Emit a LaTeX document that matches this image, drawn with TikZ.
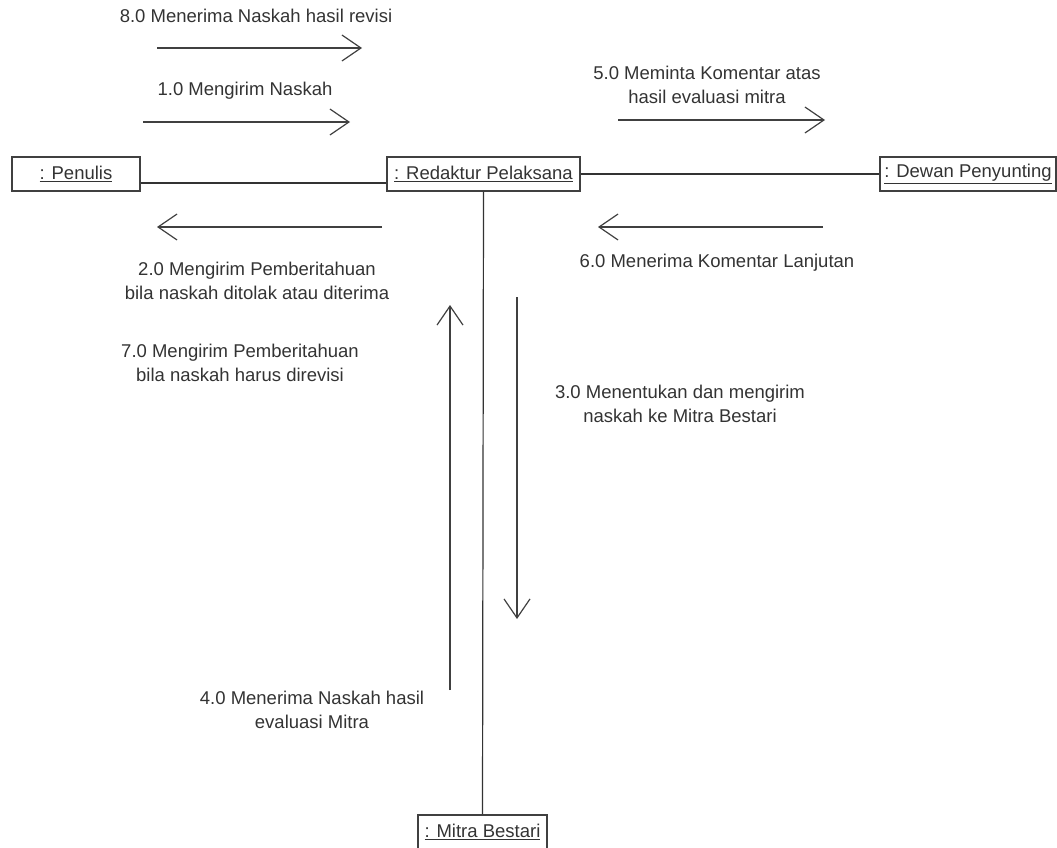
\documentclass[tikz,border=0pt]{standalone}
\usepackage{fontspec}
\setmainfont{Liberation Sans}
\usetikzlibrary{positioning,arrows.meta}

\begin{document}
\begin{tikzpicture}[x=1pt, y=-1pt, font=\fontsize{18.5}{24.5}\selectfont,
	obj/.style={draw=black!75, line width=1.3pt, inner sep=0pt, minimum height=34pt, text=black!80},
	link/.style={draw=black!80, line width=1.2pt},
	msg/.style={draw=black!75, line width=1.2pt, -{Straight Barb[length=19pt, width=26pt]}},
	lbl/.style={align=center, text=black!80, inner sep=0pt}]
\useasboundingbox (0,0) rectangle (1057,848);

% objects
\node[obj, minimum width=128pt]	(penulis)	at (76,174)		{\underline{: Penulis}};
\node[obj, minimum width=193pt]	(redaktur)	at (483.5,174)	{\underline{: Redaktur Pelaksana}};
\node[obj, minimum width=176pt]	(dewan)		at (968,174)	{\underline{: Dewan Penyunting}};
\node[obj, minimum width=129pt]	(mitra)		at (482.5,832)	{\underline{: Mitra Bestari}};

% links
\path[link]	([yshift=-9pt]penulis.east)	edge	([yshift=-9pt]redaktur.west)
			(redaktur.east)				edge	(dewan.west)
			(redaktur.south)			edge	(mitra.north);

% message ends
\coordinate (m8a) at (157,48);	\coordinate (m8b) at (362,48);
\coordinate (m1a) at (143,122);	\coordinate (m1b) at (350,122);
\coordinate (m5a) at (618,120);	\coordinate (m5b) at (825,120);
\coordinate (m2a) at (382,227);	\coordinate (m2b) at (157,227);
\coordinate (m6a) at (823,227);	\coordinate (m6b) at (598,227);
\coordinate (m4a) at (450,690);	\coordinate (m4b) at (450,305);
\coordinate (m3a) at (517,297);	\coordinate (m3b) at (517,619);

% messages
\draw[msg] (m8a) -- (m8b);
\draw[msg] (m1a) -- (m1b);
\draw[msg] (m5a) -- (m5b);
\draw[msg] (m2a) -- (m2b);
\draw[msg] (m6a) -- (m6b);
\draw[msg] (m4a) -- (m4b);
\draw[msg] (m3a) -- (m3b);

% labels
\node[lbl] (l8) at (256,16)		{8.0 Menerima Naskah hasil revisi};
\node[lbl] (l1) at (245,91)		{1.0 Mengirim Naskah};
\node[lbl] (l5) at (707,85)		{5.0 Meminta Komentar atas\\hasil evaluasi mitra};
\node[lbl] (l2) at (257,281)	{2.0 Mengirim Pemberitahuan\\bila naskah ditolak atau diterima};
\node[lbl] (l6) at (717,263)	{6.0 Menerima Komentar Lanjutan};
\node[lbl] (l7) at (240,363)	{7.0 Mengirim Pemberitahuan\\bila naskah harus direvisi};
\node[lbl] (l3) at (680,404)	{3.0 Menentukan dan mengirim\\naskah ke Mitra Bestari};
\node[lbl] (l4) at (312,710)	{4.0 Menerima Naskah hasil\\evaluasi Mitra};
\end{tikzpicture}
\end{document}
